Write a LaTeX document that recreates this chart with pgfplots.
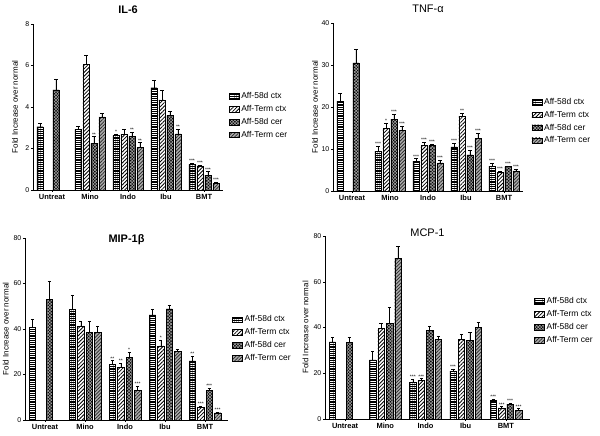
\documentclass[border=0pt]{standalone}
\usepackage{pgfplots}
\pgfplotsset{compat=1.18}
\usepackage{pgfplotstable}
\usepackage{fontspec}
\setmainfont{Liberation Sans}
\usetikzlibrary{patterns.meta}

% g y1 e1 y2 e2 y3 e3 y4 e4
\pgfplotstableread{
g y1 e1 y2 e2 y3 e3 y4 e4
0 3.05 0.16 nan nan 4.82 0.53 nan nan
1 2.92 0.16 6.07 0.43 2.25 0.32 3.53 0.16
2 2.62 0.06 2.68 0.24 2.57 0.21 2.04 0.24
3 4.93 0.37 4.34 0.45 3.61 0.20 2.70 0.22
4 1.24 0.05 1.17 0.04 0.72 0.16 0.32 0.05
}\ilsix
\pgfplotstableread{
g k top s
1 3 2.57 **
2 1 2.68 *
2 3 2.78 **
2 4 2.28 **
3 4 2.92 **
4 1 1.29 ***
4 2 1.21 ***
4 3 0.88 ***
4 4 0.37 ***
}\ilsixstars

\pgfplotstableread{
g y1 e1 y2 e2 y3 e3 y4 e4
0 21.4 1.8 nan nan 30.5 3.2 nan nan
1 9.5 1.2 14.9 1.2 17.1 1.1 14.5 1.0
2 7.1 0.6 10.9 0.7 10.8 0.4 6.7 0.7
3 10.5 0.8 17.8 0.7 8.6 1.1 12.5 1.2
4 5.9 0.8 4.4 0.4 5.8 0.2 4.8 0.4
}\tnf
\pgfplotstableread{
g k top s
1 1 10.7 ***
1 2 16.1 *
1 3 18.2 ***
1 4 15.5 ***
2 1 7.7 ***
2 2 11.6 ***
2 3 11.2 ***
2 4 7.4 ***
3 1 11.3 ***
3 2 18.5 **
3 3 9.7 ***
3 4 13.7 ***
4 1 6.7 ***
4 2 4.8 ***
4 3 6.0 ***
4 4 5.2 ***
}\tnfstars

\pgfplotstableread{
g y1 e1 y2 e2 y3 e3 y4 e4
0 40.8 3.5 nan nan 53.1 8.0 nan nan
1 48.7 6.3 41.4 2.2 38.6 5.0 38.6 2.8
2 24.5 1.6 23.2 1.8 27.4 2.4 12.9 1.8
3 46.2 2.5 32.6 2.6 48.9 1.7 30.1 1.0
4 26.0 2.0 5.6 0.4 12.9 1.0 3.2 0.3
}\mip
\pgfplotstableread{
g k top s
2 1 26.1 **
2 2 25.0 **
2 3 29.8 *
2 4 14.7 ***
3 2 35.2 *
4 1 28.0 **
4 2 6.0 ***
4 3 13.9 ***
4 4 3.5 ***
}\mipstars

\pgfplotstableread{
g y1 e1 y2 e2 y3 e3 y4 e4
0 33.7 2.0 nan nan 33.4 2.5 nan nan
1 25.8 3.8 39.6 2.2 41.8 7.0 70.1 5.3
2 16.1 1.3 17.0 0.6 38.9 1.8 34.8 1.5
3 20.9 1.0 34.8 2.2 34.4 3.5 40.2 1.9
4 8.3 0.4 4.9 0.5 6.5 0.6 3.9 0.6
}\mcp
\pgfplotstableread{
g k top s
2 1 17.4 ***
2 2 17.6 ***
3 1 21.9 ***
4 1 8.7 ***
4 2 5.4 ***
4 3 7.1 ***
4 4 4.5 ***
}\mcpstars

\tikzset{
  sA/.style={fill=black, draw=black, line width=0.4bp,
    postaction={pattern={Lines[angle=0,distance=2.2bp,line width=0.9bp]}, pattern color=white}},
  sB/.style={fill=white, draw=black, line width=0.4bp,
    postaction={pattern={Lines[angle=45,distance=2.6bp,line width=0.8bp]}, pattern color=black}},
  sC/.style={fill=black, draw=black, line width=0.4bp,
    postaction={pattern={Hatch[angle=45,distance=2.2bp,line width=0.6bp]}, pattern color=gray!75}},
  sD/.style={fill=gray!65, draw=black, line width=0.4bp,
    postaction={pattern={Lines[angle=45,distance=2.4bp,line width=0.7bp]}, pattern color=black!85}},
}

\pgfplotsset{
  mybar/.style={ybar, bar width=0.16, bar shift=0pt,
    legend image code/.code={\draw[##1] (0bp,-2.8bp) rectangle (10bp,2.8bp);},
    error bars/.cd, y dir=plus, y explicit,
    error bar style={black, solid, line width=0.5bp},
    error mark options={rotate=90, mark size=1.6bp, black, line width=0.5bp}},
  stars/.style={forget plot, only marks, mark=none, nodes near coords,
    point meta=explicit symbolic,
    nodes near coords style={font=\fontsize{5}{5}\selectfont, anchor=south, inner sep=0.4bp}},
  panel/.style={scale only axis, axis lines=left, axis line style={-, line width=0.6bp},
    xmin=-0.5, ymin=0, xtick={0,...,4},
    xticklabels={Untreat,Mino,Indo,Ibu,BMT},
    x tick label style={font=\bfseries\fontsize{7.5}{8}\selectfont, inner sep=2bp},
    y tick label style={font=\fontsize{7}{8}\selectfont, inner sep=1.5bp},
    /pgf/number format/assume math mode=true,
    tick align=outside, major tick length=2bp, tick style={black, line width=0.5bp},
    ylabel={Fold Increase over normal},
    every axis y label/.style={at={(axis description cs:-0.095,0.5)}, rotate=90, anchor=center,
      font=\fontsize{8}{9}\selectfont},
    legend cell align=left,
    legend style={draw=none, fill=none, inner sep=0pt, font=\fontsize{8.5}{9}\selectfont,
      row sep=1.2bp, anchor=north west},
    clip=false},
}

\newcommand{\bars}[2]{%
  \addplot[sA, mybar] table[x expr=\thisrow{g}-0.315, y=y1, y error=e1]{#1};
  \addplot[sB, mybar] table[x expr=\thisrow{g}-0.105, y=y2, y error=e2]{#1};
  \addplot[sC, mybar] table[x expr=\thisrow{g}+0.105, y=y3, y error=e3]{#1};
  \addplot[sD, mybar] table[x expr=\thisrow{g}+0.315, y=y4, y error=e4]{#1};
  \addplot[stars] table[x expr=\thisrow{g}+(\thisrow{k}-2.5)*0.21, y=top, meta=s]{#2};
  \legend{Aff-58d ctx, Aff-Term ctx, Aff-58d cer, Aff-Term cer}
}

\begin{document}
\begin{tikzpicture}
\useasboundingbox (0,0) rectangle (600bp,436bp);

\begin{axis}[panel, at={(33bp,246bp)}, anchor=south west, width=190bp, height=166bp,
  xmax=4.5, ymax=8, ytick={0,2,4,6,8},
  title={IL-6}, every axis title/.style={at={(0.5,1.084)}, anchor=center, font=\bfseries\fontsize{11}{12}\selectfont},
  legend style={at={(1.03,0.6)}}]
\bars{\ilsix}{\ilsixstars}
\end{axis}

\begin{axis}[panel, at={(333bp,245bp)}, anchor=south west, width=190bp, height=168bp,
  xmax=4.5, ymax=40, ytick={0,10,20,30,40},
  title={TNF-α}, every axis title/.style={at={(0.5,1.083)}, anchor=center, font=\fontsize{11}{12}\selectfont},
  legend style={at={(1.045,0.565)}}]
\bars{\tnf}{\tnfstars}
\end{axis}

\begin{axis}[panel, at={(25bp,16bp)}, anchor=south west, width=203bp, height=182bp,
  xmax=4.575, ymax=80, ytick={0,20,40,60,80},
  title={MIP-1β}, every axis title/.style={at={(0.5,0.99)}, anchor=center, font=\bfseries\fontsize{11}{12}\selectfont},
  legend style={at={(1.02,0.585)}}]
\bars{\mip}{\mipstars}
\end{axis}

\begin{axis}[panel, at={(325bp,17bp)}, anchor=south west, width=205bp, height=183bp,
  xmax=4.6, ymax=80, ytick={0,20,40,60,80},
  title={MCP-1}, every axis title/.style={at={(0.5,1.016)}, anchor=center, font=\fontsize{11}{12}\selectfont},
  legend style={at={(1.02,0.675)}}]
\bars{\mcp}{\mcpstars}
\end{axis}
\end{tikzpicture}
\end{document}
